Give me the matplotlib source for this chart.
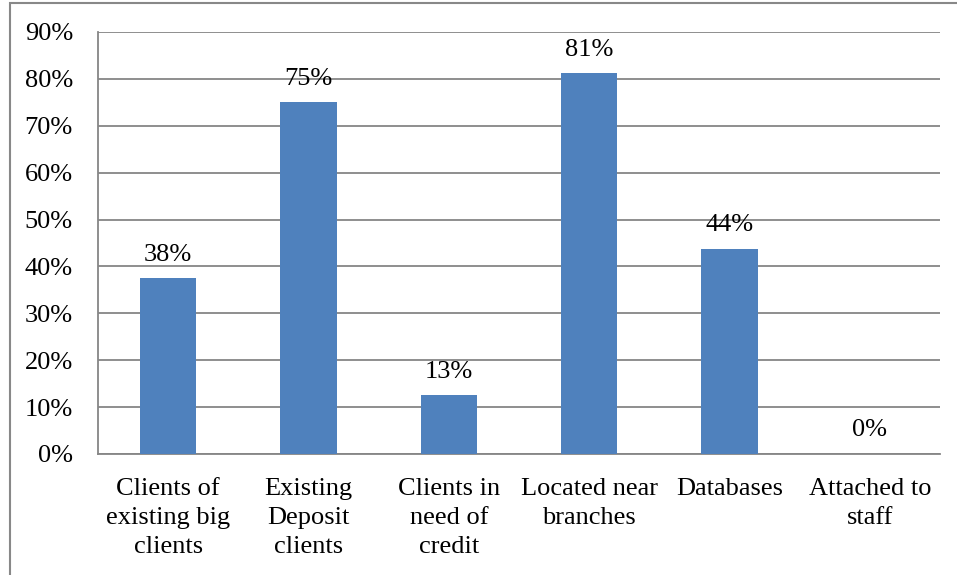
import matplotlib
matplotlib.use("Agg")
import matplotlib.pyplot as plt
from matplotlib.patches import Rectangle
from matplotlib.ticker import FuncFormatter

categories = ["Clients of\nexisting big\nclients", "Existing\nDeposit\nclients",
              "Clients in\nneed of\ncredit", "Located near\nbranches",
              "Databases", "Attached to\nstaff"]
values = [37.5, 75.0, 12.5, 81.25, 43.75, 0.0]
value_labels = ["38%", "75%", "13%", "81%", "44%", "0%"]
yticks = [0, 10, 20, 30, 40, 50, 60, 70, 80, 90]

plt.rcParams['font.family'] = ['Liberation Serif', 'DejaVu Serif']

W, H = 957, 575
fig = plt.figure(figsize=(W / 100, H / 100), dpi=100)
ax = fig.add_axes([98 / W, 1 - 454 / H, (940 - 98) / W, (454 - 32) / H])

x = list(range(len(categories)))
bars = ax.bar(x, values, width=0.4, color="#4F81BD", zorder=3)
ax.set_xlim(-0.5, len(categories) - 0.5)
ax.set_ylim(0, 90)
ax.set_yticks(yticks)
ax.yaxis.set_major_formatter(FuncFormatter(lambda v, p: f"{int(v)}%"))
ax.set_xticks(x)
ax.set_xticklabels(categories, linespacing=1.42)
ax.tick_params(axis='both', length=0, labelsize=19, colors='black')
ax.tick_params(axis='y', pad=18)
ax.tick_params(axis='x', pad=17)
ax.grid(axis='y', color='#868686', linewidth=1.3, zorder=0)
for s in ['top', 'right']:
    ax.spines[s].set_visible(False)
for s in ['left', 'bottom']:
    ax.spines[s].set_color('#868686')
    ax.spines[s].set_linewidth(1.3)

for xi, v, lab in zip(x, values, value_labels):
    ax.annotate(lab, (xi, v), xytext=(0, 9), textcoords='offset points',
                ha='center', va='bottom', fontsize=19)

fig.patches.append(Rectangle((10 / W, -0.2), 1.5, 1 - 3 / H + 0.2,
                             transform=fig.transFigure, fill=False,
                             edgecolor='#888888', linewidth=1.5))

fig.savefig("out.png", dpi=100)
